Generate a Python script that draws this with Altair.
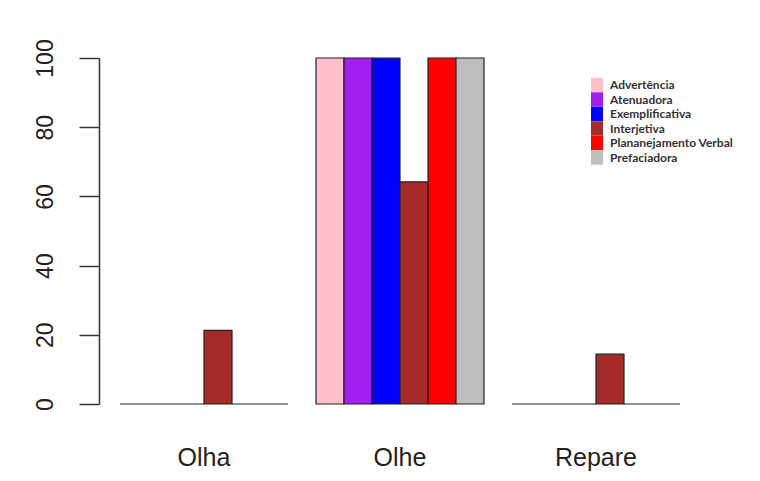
import altair as alt
import pandas as pd

groups = ["Olha", "Olhe", "Repare"]
series = ["Advertência", "Atenuadora", "Exemplificativa", "Interjetiva",
          "Plananejamento Verbal", "Prefaciadora"]
colors = ["#FFC0CB", "#A020F0", "#0000FF", "#A52A2A", "#FF0000", "#BEBEBE"]
olha = [0, 0, 0, 21.3, 0, 0]
olhe = [100, 100, 100, 64.2, 100, 100]
repare = [0, 0, 0, 14.4, 0, 0]

rows = []
for g, vals in zip(groups, [olha, olhe, repare]):
    for s, v in zip(series, vals):
        rows.append({"grupo": g, "tipo": s, "valor": v})
df = pd.DataFrame(rows)

chart = alt.Chart(df).mark_bar(stroke="#222", strokeWidth=1.2, opacity=1).encode(
    x=alt.X("grupo:N", sort=groups, title=None,
            scale=alt.Scale(paddingInner=28 / 196, paddingOuter=21 / 196),
            axis=alt.Axis(domain=False, ticks=False, labelAngle=0,
                          labelFont="Liberation Sans", labelFontSize=25,
                          labelColor="#222", labelPadding=41,
                          labelBaseline="top")),
    xOffset=alt.XOffset("tipo:N", sort=series,
                        scale=alt.Scale(paddingInner=0, paddingOuter=0)),
    y=alt.Y("valor:Q", title=None,
            scale=alt.Scale(domain=[0, 100], nice=False),
            axis=alt.Axis(values=[0, 20, 40, 60, 80, 100], grid=False,
                          domainColor="#333", domainWidth=1.5,
                          tickColor="#333", tickWidth=1.5, tickSize=20,
                          labelAngle=270, labelAlign="center",
                          labelBaseline="bottom", labelPadding=22,
                          labelFont="Liberation Sans", labelFontSize=23,
                          labelColor="#222")),
    color=alt.Color("tipo:N", sort=series,
                    scale=alt.Scale(domain=series, range=colors),
                    legend=alt.Legend(title=None, orient="none",
                                      legendX=492, legendY=21,
                                      symbolType="M-1,-1.2H1V1.2H-1Z",
                                      symbolSize=144, symbolStrokeWidth=0,
                                      symbolOpacity=1,
                                      labelFont="Lato", labelFontWeight="bold",
                                      labelFontSize=12, labelColor="#333",
                                      labelOffset=7, rowPadding=-1.5)),
).properties(
    width=602, height=346, background="white",
    autosize=alt.AutoSizeParams(type="none"),
    padding={"left": 91, "top": 50, "right": 51, "bottom": 69},
).configure_view(strokeWidth=0)

chart.save("out.html", embed_options={"renderer": "svg", "actions": False})
